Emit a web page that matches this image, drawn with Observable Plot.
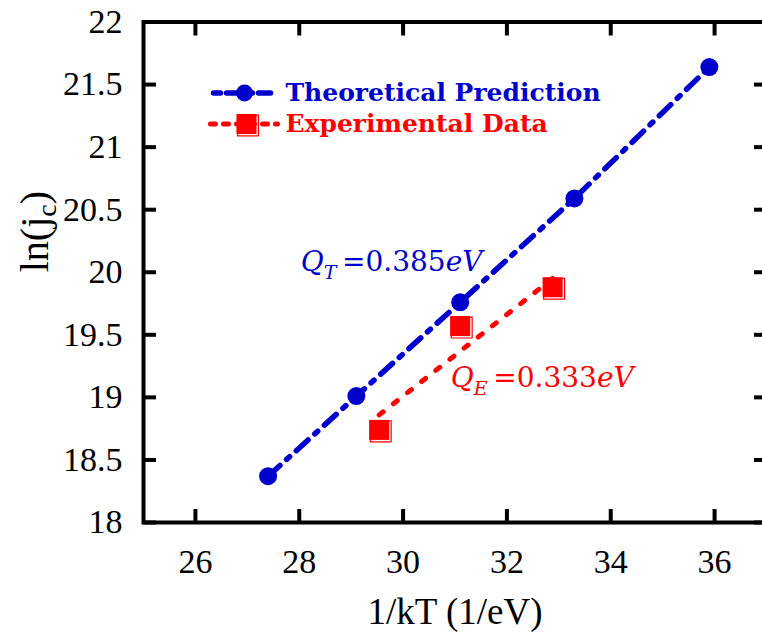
<!DOCTYPE html>
<html><head><meta charset="utf-8">
<script src="https://cdn.jsdelivr.net/npm/d3@7"></script>
<script src="https://cdn.jsdelivr.net/npm/@observablehq/plot@0.6"></script>
<style>html,body{margin:0;padding:0;overflow:hidden;background:#fff}</style>
</head><body><div id="chart"></div>
<script>
// ---- data ----
const theoryX = [27.4, 29.1, 31.1, 33.3, 35.9];
const theoryY = [18.37, 19.01, 19.76, 20.59, 21.64];
const expX = [29.54, 31.10, 32.88];
const expY = [18.74, 19.57, 19.88];
const expFitX = [29.54, 32.88];
const expFitY = [18.86, 19.95];
const xTicks = [26, 28, 30, 32, 34, 36];
const yTicks = [18, 18.5, 19, 19.5, 20, 20.5, 21, 21.5, 22];
const seriesNames = ["Theoretical Prediction", "Experimental Data"];
const annX = [28.03, 30.92];
const annY = [20.01, 19.08];
const annSym = ["T", "E"];
const annVal = ["0.385", "0.333"];
const xLabel = "1/kT (1/eV)";
const yLabel = "ln(jc)";

const BLUE = "#0000cc", RED = "#ff0000";
const colors = [BLUE, RED];
const SERIF = "Liberation Serif";
const MATH = "DejaVu Serif";

const theory = theoryX.map((x, i) => ({x, y: theoryY[i]}));
const exper = expX.map((x, i) => ({x, y: expY[i]}));
const expFit = expFitX.map((x, i) => ({x, y: expFitY[i]}));
const anns = annX.map((x, i) => ({x, y: annY[i], text: `Q_${annSym[i]}=${annVal[i]}eV`, color: colors[i]}));

const hline = {draw(ctx, l) { ctx.moveTo(0, 0); ctx.lineTo(0, -l); }};

const svg = Plot.plot({
  width: 762,
  height: 637,
  marginLeft: 143,
  marginRight: -4,
  marginTop: 21.5,
  marginBottom: 115,
  style: {fontFamily: SERIF, fontSize: "34px", background: "white", color: "black"},
  x: {domain: [25, 37]},
  y: {domain: [18, 22]},
  marks: [
    // inward ticks on all four sides
    Plot.axisX(xTicks, {anchor: "bottom", tickSize: -13, strokeWidth: 4, tickFormat: () => "", label: null}),
    Plot.axisX(xTicks, {anchor: "top", tickSize: -13, strokeWidth: 4, tickFormat: () => "", label: null}),
    Plot.axisY(yTicks, {anchor: "left", tickSize: -13, strokeWidth: 4, tickFormat: () => "", label: null}),
    Plot.axisY(yTicks, {anchor: "right", tickSize: -13, strokeWidth: 4, tickFormat: () => "", label: null}),
    // tick labels
    Plot.text(xTicks, {x: d => d, frameAnchor: "bottom", dy: 26, lineAnchor: "top", fontSize: 34, fontFamily: SERIF, fill: "black"}),
    Plot.text(yTicks, {y: d => d, frameAnchor: "left", dx: -21, textAnchor: "end", lineAnchor: "middle", fontSize: 34, fontFamily: SERIF, fill: "black", text: d => String(d)}),
    Plot.frame({strokeWidth: 4}),
    // fitted lines
    Plot.line(theory, {x: "x", y: "y", stroke: BLUE, strokeWidth: 5.5, strokeDasharray: "16,9,4,9"}),
    Plot.line(expFit, {x: "x", y: "y", stroke: RED, strokeWidth: 5, strokeDasharray: "5,13"}),
    // points
    Plot.dot(theory, {x: "x", y: "y", r: 9, fill: BLUE}),
    Plot.dot(exper, {x: "x", y: "y", symbol: "square", r: 11.8, stroke: RED, fill: "none", strokeWidth: 1.2, dx: 1.5, dy: 1.5}),
    Plot.dot(exper, {x: "x", y: "y", symbol: "square", r: 11.3, fill: RED}),
    // annotations
    Plot.text(anns, {x: "x", y: "y", text: "text", fill: "color", textAnchor: "start", lineAnchor: "bottom", fontSize: 28, fontFamily: MATH}),
    // legend
    Plot.vector([0], {frameAnchor: "top-left", dx: 70, dy: 71, length: 57, rotate: 90, anchor: "start", shape: hline, stroke: BLUE, strokeWidth: 5.5, strokeDasharray: "7,6,14,5"}),
    Plot.dot([0], {frameAnchor: "top-left", dx: 101, dy: 71, r: 8.5, fill: BLUE}),
    Plot.text([seriesNames[0]], {frameAnchor: "top-left", dx: 142, dy: 71, textAnchor: "start", lineAnchor: "middle", fill: BLUE, fontWeight: "bold", fontSize: 25, fontFamily: MATH}),
    Plot.vector([0], {frameAnchor: "top-left", dx: 67, dy: 102, length: 67, rotate: 90, anchor: "start", shape: hline, stroke: RED, strokeWidth: 5, strokeDasharray: "5,8"}),
    Plot.dot([0], {frameAnchor: "top-left", dx: 104.5, dy: 103.5, symbol: "square", r: 11.8, stroke: RED, fill: "none", strokeWidth: 1.2}),
    Plot.dot([0], {frameAnchor: "top-left", dx: 103, dy: 102, symbol: "square", r: 11.3, fill: RED}),
    Plot.text([seriesNames[1]], {frameAnchor: "top-left", dx: 142, dy: 102, textAnchor: "start", lineAnchor: "middle", fill: RED, fontWeight: "bold", fontSize: 25, fontFamily: MATH}),
    // axis titles
    Plot.text([xLabel], {frameAnchor: "bottom", dy: 101, lineAnchor: "bottom", fontSize: 37, fontFamily: SERIF, fill: "black"}),
    Plot.text([yLabel], {frameAnchor: "left", dx: -124, rotate: -90, lineAnchor: "top", fontSize: 40, fontFamily: SERIF, fill: "black"})
  ]
});

// rich text: subscripts and italics
d3.select(svg).selectAll("text").each(function() {
  const t = this.textContent;
  const sel = d3.select(this);
  let m = /^Q_([A-Z])=(.*)eV$/.exec(t);
  if (m) {
    sel.text(null);
    sel.append("tspan").attr("font-style", "italic").text("Q");
    sel.append("tspan").attr("font-style", "italic").attr("font-size", "19px").attr("dy", 8).text(m[1]);
    sel.append("tspan").attr("dy", -8).text("\u2009=" + m[2]);
    sel.append("tspan").attr("font-style", "italic").text("eV");
  } else if (t === "ln(jc)") {
    sel.text(null);
    sel.append("tspan").text("ln(j");
    sel.append("tspan").attr("font-size", "28px").attr("dy", 8).text("c");
    sel.append("tspan").attr("dy", -8).text(")");
  }
});
document.getElementById("chart").appendChild(svg);
</script>
</body></html>
